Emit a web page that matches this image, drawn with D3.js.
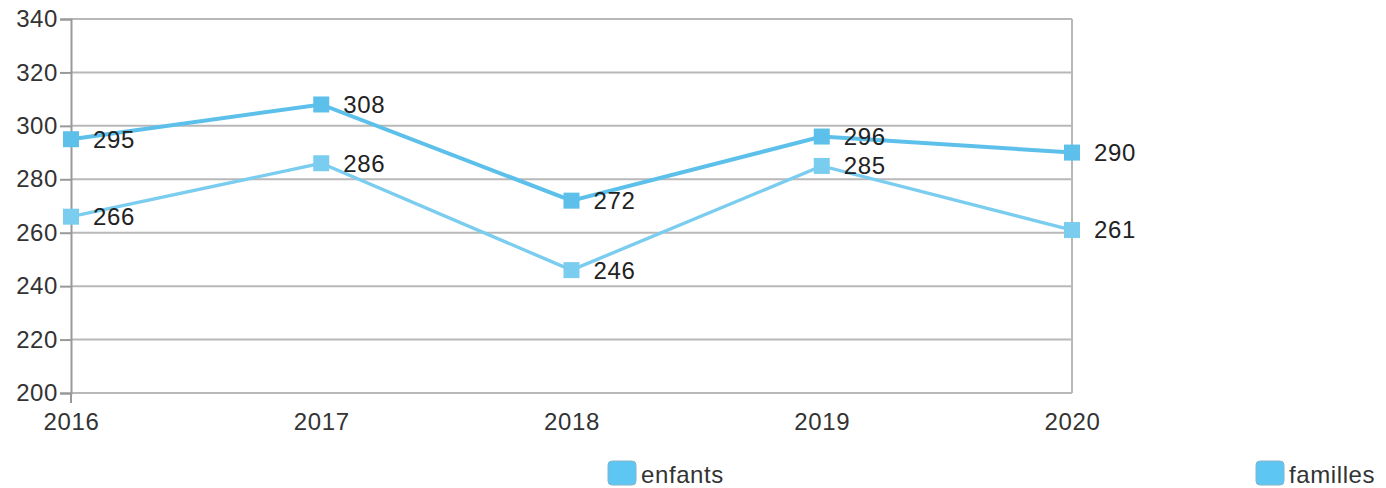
<!DOCTYPE html>
<html>
<head>
<meta charset="utf-8">
<script src="https://cdn.jsdelivr.net/npm/d3@7"></script>
<style>
  body { margin: 0; background: #fff; }
  svg { display: block; font-family: 'Liberation Sans', Arial, sans-serif; }
</style>
</head>
<body>
<div id="chart"></div>
<script>
const years = ['2016', '2017', '2018', '2019', '2020']
const enfants = [295, 308, 272, 296, 290]
const familles = [266, 286, 246, 285, 261]
const yTicks = [200, 220, 240, 260, 280, 300, 320, 340]

const series = [
  { name: 'enfants', values: enfants, color: '#5cc0ea', width: 4 },
  { name: 'familles', values: familles, color: '#7bcdef', width: 3.4 },
]

const W = 1386, H = 488
const m = { left: 71, right: 314, top: 19, bottom: 95 }
const FONT = 24

const svg = d3.select('#chart').append('svg')
  .attr('width', W)
  .attr('height', H)

const x = d3.scalePoint()
  .domain(years)
  .range([m.left, W - m.right])

const y = d3.scaleLinear()
  .domain([200, 340])
  .range([H - m.bottom, m.top])

// Gridlines
svg.append('g')
  .selectAll('line')
  .data(yTicks)
  .enter().append('line')
  .attr('x1', m.left)
  .attr('x2', W - m.right)
  .attr('y1', d => y(d))
  .attr('y2', d => y(d))
  .attr('stroke', '#b8b8b8')
  .attr('stroke-width', 2)

// Right border
svg.append('line')
  .attr('x1', W - m.right).attr('x2', W - m.right)
  .attr('y1', m.top).attr('y2', H - m.bottom)
  .attr('stroke', '#b8b8b8')
  .attr('stroke-width', 2)

// Y axis
const yAxis = svg.append('g')
  .attr('transform', `translate(${m.left},0)`)
  .call(d3.axisLeft(y).tickValues(yTicks).tickSize(11).tickPadding(2))
yAxis.select('.domain').attr('stroke', '#999').attr('stroke-width', 2)
yAxis.selectAll('.tick line').attr('stroke', '#999').attr('stroke-width', 2)
yAxis.selectAll('.tick text')
  .attr('font-size', FONT)
  .attr('letter-spacing', 0.6)
  .attr('fill', '#333')

// X axis
const xAxis = svg.append('g')
  .attr('transform', `translate(0,${H - m.bottom})`)
  .call(d3.axisBottom(x).tickSize(0).tickPadding(20))
xAxis.select('.domain').remove()
xAxis.selectAll('.tick text')
  .attr('font-size', FONT)
  .attr('letter-spacing', 0.6)
  .attr('fill', '#333')
svg.append('line')
  .attr('x1', m.left).attr('x2', m.left)
  .attr('y1', H - m.bottom).attr('y2', H - m.bottom + 10)
  .attr('stroke', '#999').attr('stroke-width', 2)

// Lines, markers, labels
const line = d3.line()
  .x((d, i) => x(years[i]))
  .y(d => y(d))

series.forEach(s => {
  const g = svg.append('g')
  g.append('path')
    .datum(s.values)
    .attr('fill', 'none')
    .attr('stroke', s.color)
    .attr('stroke-width', s.width)
    .attr('d', line)

  g.selectAll('rect')
    .data(s.values)
    .enter().append('rect')
    .attr('x', (d, i) => x(years[i]) - 8)
    .attr('y', d => y(d) - 8)
    .attr('width', 16)
    .attr('height', 16)
    .attr('fill', s.color)

  g.selectAll('text')
    .data(s.values)
    .enter().append('text')
    .attr('x', (d, i) => x(years[i]) + 22)
    .attr('y', d => y(d))
    .attr('dy', '0.35em')
    .attr('font-size', FONT)
    .attr('letter-spacing', 0.6)
    .attr('fill', '#222')
    .text(d => d)
})

// Legend
const legendX = [608, 1256]
series.forEach((s, i) => {
  const g = svg.append('g').attr('transform', `translate(${legendX[i]},461)`)
  g.append('rect')
    .attr('width', 28).attr('height', 24)
    .attr('rx', 4)
    .attr('fill', '#5ec6f2')
    .attr('stroke', '#86b4ca')
    .attr('stroke-width', 1)
  g.append('text')
    .attr('x', 33)
    .attr('y', 22)
    .attr('font-size', FONT)
    .attr('letter-spacing', 0.6)
    .attr('fill', '#333')
    .text(s.name)
})
</script>
</body>
</html>
